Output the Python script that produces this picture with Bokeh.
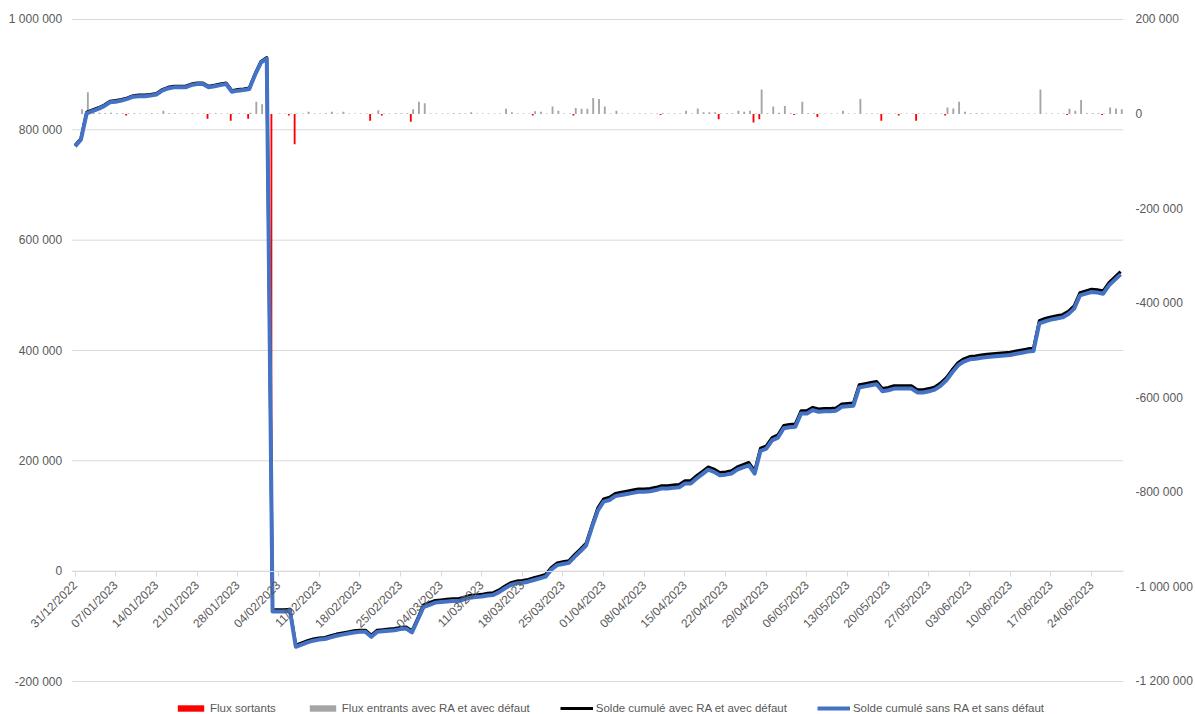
import math
import pandas as pd
from bokeh.plotting import figure
from bokeh.models import Range1d, LinearAxis, FixedTicker, Legend, LegendItem, ColumnDataSource
from bokeh.embed import file_html
from bokeh.resources import INLINE

# ---------------- data (values in thousands) ----------------
start_date = "2022-12-31"
n_days = 181
dates = pd.date_range(start_date, periods=n_days, freq="D")
day = list(range(n_days))

solde_sans_k = [
    770, 782, 830, 834, 838, 843, 850, 851, 853, 856,
    860, 861, 861, 862, 864, 871, 875, 877, 877, 877,
    881, 883, 883, 877, 879, 881, 883, 869, 871, 872,
    874, 900, 922, 929, -73, -73, -73, -72, -137, -133,
    -129, -126, -124, -123, -120, -117, -115, -113, -111, -110,
    -110, -119, -110, -109, -108, -107, -105, -104, -111, -88,
    -65, -61, -57, -56, -55, -54, -54, -51, -48, -47,
    -46, -44, -43, -38, -31, -25, -22, -21, -19, -16,
    -13, -10, 3, 11, 13, 15, 26, 36, 47, 80,
    110, 126, 129, 136, 138, 140, 142, 144, 144, 145,
    147, 150, 150, 151, 152, 159, 159, 168, 176, 184,
    180, 174, 175, 177, 184, 188, 192, 177, 218, 222,
    237, 242, 259, 261, 262, 286, 286, 292, 289, 290,
    290, 291, 298, 299, 300, 333, 335, 337, 339, 326,
    328, 331, 331, 331, 331, 324, 324, 326, 329, 336,
    346, 360, 373, 380, 384, 385, 387, 388, 389, 390,
    391, 392, 394, 396, 398, 399, 449, 453, 456, 458,
    460, 466, 476, 500, 503, 506, 505, 503, 518, 528,
    538,
]

solde_avec_k = [
    772, 784, 832, 836, 840, 845, 852, 853, 855, 858,
    862, 863, 863, 864, 866, 873, 877, 879, 879, 879,
    883, 885, 885, 879, 881, 883, 885, 871, 873, 874,
    876, 902, 924, 931, -70, -70, -70, -69, -134, -130,
    -126, -123, -121, -120, -117, -114, -112, -110, -108, -107,
    -107, -116, -107, -106, -105, -104, -102, -101, -108, -85,
    -61, -57, -53, -52, -51, -50, -50, -47, -44, -43,
    -42, -40, -39, -34, -27, -21, -18, -17, -15, -12,
    -9, -6, 7, 15, 17, 19, 30, 40, 51, 84,
    115, 131, 134, 141, 143, 145, 147, 149, 149, 150,
    152, 155, 155, 156, 157, 164, 164, 173, 181, 189,
    185, 179, 180, 182, 189, 193, 197, 182, 223, 227,
    242, 247, 264, 266, 267, 291, 291, 297, 294, 295,
    295, 296, 303, 304, 305, 338, 340, 342, 344, 331,
    333, 336, 336, 336, 336, 329, 329, 331, 334, 341,
    351, 365, 378, 385, 389, 390, 392, 393, 394, 395,
    396, 397, 399, 401, 403, 404, 454, 458, 461, 463,
    465, 471, 481, 505, 508, 511, 510, 508, 523, 533,
    543,
]

flux_entrants_k = [
    0, 10, 46, 3, 3, 2, 3, 2, 2, 2,
    2, 1, 1, 2, 1, 7, 2, 2, 1, 1,
    2, 1, 1, 1, 2, 1, 1, 1, 2, 1,
    3, 26, 21, 0, 0, 1, 1, 1, 1, 1,
    5, 1, 1, 2, 5, 1, 5, 1, 1, 1,
    1, 1, 8, 1, 1, 2, 2, 2, 10, 26,
    23, 1, 1, 1, 1, 2, 2, 1, 4, 1,
    1, 1, 1, 1, 11, 4, 1, 1, 1, 6,
    5, 1, 16, 7, 1, 1, 13, 11, 11, 34,
    32, 16, 1, 7, 1, 1, 1, 1, 1, 1,
    1, 2, 1, 1, 1, 7, 1, 12, 4, 4,
    4, 1, 2, 2, 7, 5, 7, 1, 52, 2,
    16, 3, 17, 2, 1, 26, 2, 2, 1, 1,
    1, 1, 7, 1, 1, 32, 1, 1, 1, 1,
    1, 1, 1, 1, 1, 1, 1, 1, 1, 1,
    14, 12, 26, 5, 2, 2, 2, 1, 1, 1,
    1, 1, 1, 1, 1, 1, 52, 1, 1, 1,
    1, 11, 7, 30, 2, 2, 2, 1, 14, 12,
    10,
]

flux_sortants_days = [9, 23, 27, 30, 34, 37, 38, 51, 53, 58, 79, 86, 101, 111,
                      117, 118, 124, 128, 139, 142, 145, 150, 171, 177]
flux_sortants_k = [-3, -10, -14, -10, -990, -3, -64, -14, -3, -16, -3, -3, -2, -11,
                   -18, -11, -2, -6, -14, -3, -14, -3, -2, -2]

tick_days = [0, 7, 14, 21, 28, 35, 42, 49, 56, 63, 70, 77, 84, 91, 98, 105,
             112, 119, 126, 133, 140, 147, 154, 161, 168, 175]
tick_labels = ["31/12/2022", "07/01/2023", "14/01/2023", "21/01/2023", "28/01/2023",
               "04/02/2023", "11/02/2023", "18/02/2023", "25/02/2023", "04/03/2023",
               "11/03/2023", "18/03/2023", "25/03/2023", "01/04/2023", "08/04/2023",
               "15/04/2023", "22/04/2023", "29/04/2023", "06/05/2023", "13/05/2023",
               "20/05/2023", "27/05/2023", "03/06/2023", "10/06/2023", "17/06/2023",
               "24/06/2023"]

left_ticks = [-200000, 0, 200000, 400000, 600000, 800000, 1000000]
left_labels = ["-200 000", "0", "200 000", "400 000", "600 000", "800 000", "1 000 000"]
right_ticks = [-1200000, -1000000, -800000, -600000, -400000, -200000, 0, 200000]
right_labels = ["-1 200 000", "-1 000 000", "-800 000", "-600 000", "-400 000",
                "-200 000", "0", "200 000"]

# ---------------- sources ----------------
line_src = ColumnDataSource(dict(
    x=day,
    date=[d.strftime("%d/%m/%Y") for d in dates],
    sans=[v * 1000 for v in solde_sans_k],
    avec=[v * 1000 for v in solde_avec_k],
))
in_src = ColumnDataSource(dict(
    x=[d + 0.2 for d in day],
    top=[v * 1000 for v in flux_entrants_k],
))
out_src = ColumnDataSource(dict(
    x=[d - 0.2 for d in flux_sortants_days],
    top=[v * 1000 for v in flux_sortants_k],
))
x_lo, x_hi = -0.5, n_days - 0.5
grid_src = ColumnDataSource(dict(
    x0=[x_lo] * len(left_ticks), x1=[x_hi] * len(left_ticks),
    y=left_ticks,
))

FONT = "Liberation Sans"
TXT = "#595959"
GRID = "#D9D9D9"

# The frame covers the whole canvas on the left/top/bottom so that the axes
# placed at fixed locations (x = -0.5 and y = 0) are not clipped.
p = figure(width=1195, height=714, x_range=Range1d(-12.84, x_hi),
           y_range=Range1d(-259780, 1034420),
           output_backend="svg", toolbar_location=None,
           min_border_left=0, min_border_right=67, min_border_top=0, min_border_bottom=0)
p.extra_y_ranges = {"right": Range1d(-1269790, 240180)}
p.outline_line_color = None
p.background_fill_color = "white"
p.border_fill_color = "white"
p.xgrid.visible = False
p.ygrid.visible = False

# horizontal gridlines limited to the category span
p.segment(x0="x0", x1="x1", y0="y", y1="y", source=grid_src, line_color=GRID, line_width=1)

ya = p.yaxis[0]
ya.ticker = FixedTicker(ticks=left_ticks)
ya.major_label_overrides = dict(zip(left_ticks, left_labels))
ya.axis_line_color = None
ya.major_tick_line_color = None
ya.minor_tick_line_color = None
ya.major_tick_out = 0
ya.major_label_standoff = 10
ya.major_label_text_font = FONT
ya.major_label_text_font_size = "12px"
ya.major_label_text_color = TXT
ya.fixed_location = x_lo

ra = LinearAxis(y_range_name="right", ticker=FixedTicker(ticks=right_ticks))
ra.major_label_overrides = dict(zip(right_ticks, right_labels))
ra.axis_line_color = None
ra.major_tick_line_color = None
ra.minor_tick_line_color = None
ra.major_tick_out = 0
ra.major_label_standoff = 12
ra.major_label_text_font = FONT
ra.major_label_text_font_size = "12px"
ra.major_label_text_color = TXT
p.add_layout(ra, "right")

xa = p.xaxis[0]
xa.ticker = FixedTicker(ticks=tick_days)
xa.major_label_overrides = dict(zip(tick_days, tick_labels))
xa.major_label_orientation = math.pi / 4
xa.axis_line_color = GRID
xa.major_tick_line_color = GRID
xa.major_tick_out = 5
xa.major_tick_in = 0
xa.minor_tick_line_color = None
xa.major_label_standoff = 7
xa.major_label_text_font = FONT
xa.major_label_text_font_size = "12px"
xa.major_label_text_color = TXT
xa.fixed_location = 0
xa.bounds = (x_lo, x_hi)

# glyphs
r_out = p.vbar(x="x", top="top", bottom=0, width=0.32, source=out_src,
               y_range_name="right", fill_color="#FF0000", line_color=None)
r_in = p.vbar(x="x", top="top", bottom=0, width=0.32, source=in_src,
              y_range_name="right", fill_color="#A5A5A5", line_color=None)
r_avec = p.line(x="x", y="avec", source=line_src, line_color="#000000", line_width=3,
                line_join="round")
r_sans = p.line(x="x", y="sans", source=line_src, line_color="#4472C4", line_width=4,
                line_join="round")

legend = Legend(items=[
    LegendItem(label="Flux sortants", renderers=[r_out]),
    LegendItem(label="Flux entrants avec RA et avec défaut", renderers=[r_in]),
    LegendItem(label="Solde cumulé avec RA et avec défaut", renderers=[r_avec]),
    LegendItem(label="Solde cumulé sans RA et sans défaut", renderers=[r_sans]),
], orientation="horizontal", location=(174, 0), border_line_color=None,
    background_fill_alpha=0, label_text_font=FONT, label_text_font_size="11.5px",
    label_text_color=TXT, spacing=30, glyph_width=33, glyph_height=8,
    label_standoff=3, padding=0, margin=0, label_height=12)
p.add_layout(legend)

open("out.html", "w").write(file_html(p, INLINE))
